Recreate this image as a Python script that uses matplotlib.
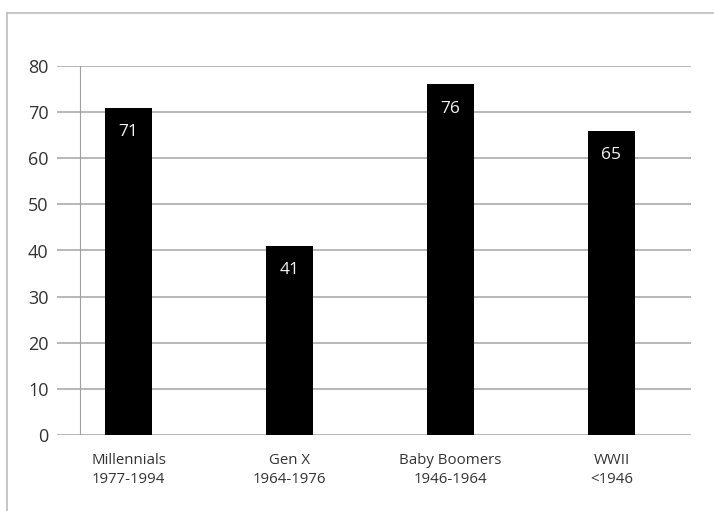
import matplotlib
matplotlib.use("Agg")
import matplotlib.pyplot as plt
from matplotlib.lines import Line2D

categories = ["Millennials\n1977-1994", "Gen X\n1964-1976", "Baby Boomers\n1946-1964", "WWII\n<1946"]
values = [71, 41, 76, 66]
value_labels = ["71", "41", "76", "65"]
yticks = [0, 10, 20, 30, 40, 50, 60, 70, 80]

plt.rcParams['font.family'] = ['Open Sans', 'DejaVu Sans']

W, H = 714, 511
fig = plt.figure(figsize=(W / 100, H / 100), dpi=100)
fig.patch.set_facecolor('white')

# axes placement (pixels): x 57..691, y 66..435
ax = fig.add_axes([57 / W, (H - 435) / H, (691 - 57) / W, (435 - 66) / H])
ax.set_xlim(-0.444, 3.494)
ax.set_ylim(0, 80)

for t in yticks:
    ax.axhline(t, color='#ababab', lw=1.2, zorder=1)
ax.axvline(-0.301, ymin=0, ymax=1, color='#a0a0a0', lw=0.8, zorder=1)

x = list(range(len(categories)))
ax.bar(x, values, width=0.295, color='black', zorder=3)

for xi, v, lab in zip(x, values, value_labels):
    ax.annotate(lab, (xi, v), xytext=(0, -17.5), textcoords='offset points',
                ha='center', va='center', color='#f2f2f2', fontsize=12.5, zorder=4)

ax.set_yticks(yticks)
ax.set_yticklabels([str(t) for t in yticks], fontsize=13, color='#333333')
ax.set_xticks(x)
ax.set_xticklabels(categories, fontsize=10.8, color='#333333', linespacing=1.4)
ax.tick_params(axis='both', length=0)
ax.tick_params(axis='y', pad=6)
ax.tick_params(axis='x', pad=13)
for s in ax.spines.values():
    s.set_visible(False)

# outer frame (only left and top visible)
bx, by = 7 / W, 1 - 13 / H
fig.add_artist(Line2D([bx, bx], [0, by], transform=fig.transFigure, color='#bdbdbd', lw=1.2))
fig.add_artist(Line2D([bx, 1], [by, by], transform=fig.transFigure, color='#bdbdbd', lw=1.2))

fig.savefig("out.png", dpi=100, facecolor='white')
